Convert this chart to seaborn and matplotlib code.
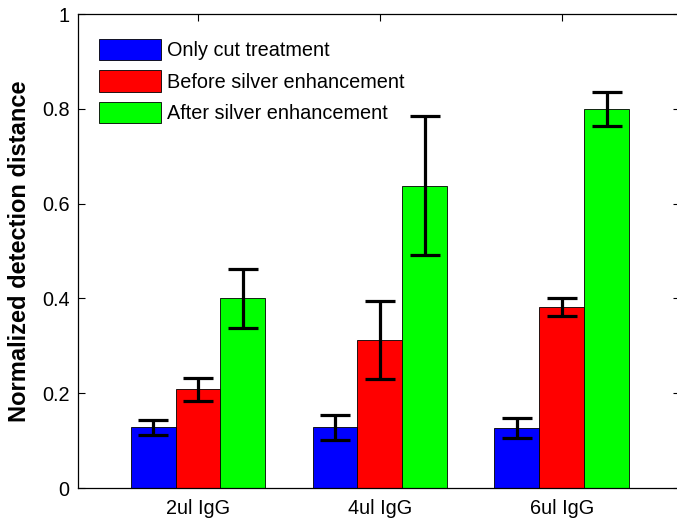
import matplotlib
matplotlib.use("Agg")
import matplotlib.pyplot as plt
from matplotlib.patches import Patch
import numpy as np
import pandas as pd
import seaborn as sns

# Data
groups = ["2ul IgG", "4ul IgG", "6ul IgG"]
conditions = ["Only cut treatment", "Before silver enhancement", "After silver enhancement"]
only_cut = [0.128, 0.128, 0.126]
before_silver = [0.208, 0.313, 0.382]
after_silver = [0.400, 0.638, 0.800]
only_cut_err = [0.016, 0.027, 0.021]
before_silver_err = [0.024, 0.082, 0.019]
after_silver_err = [0.062, 0.146, 0.036]
colors = ["#0000ff", "#ff0000", "#00ff00"]
y_ticks = [0, 0.2, 0.4, 0.6, 0.8, 1.0]
y_tick_labels = ["0", "0.2", "0.4", "0.6", "0.8", "1"]

values = [only_cut, before_silver, after_silver]
errors = [only_cut_err, before_silver_err, after_silver_err]

df = pd.DataFrame({
    "group": [g for _ in conditions for g in groups],
    "condition": [c for c in conditions for _ in groups],
    "value": [v for vals in values for v in vals],
})

sns.set_style("white")
plt.rcParams["font.family"] = ["Liberation Sans", "DejaVu Sans"]
plt.rcParams.update({"text.color": "black", "axes.labelcolor": "black",
                     "xtick.color": "black", "ytick.color": "black"})

fig = plt.figure(figsize=(6.77, 5.2), dpi=100)
ax = fig.add_axes([78 / 677, 1 - 488 / 520, 602 / 677, 474 / 520])

sns.barplot(data=df, x="group", y="value", hue="condition",
            order=groups, hue_order=conditions, palette=colors,
            width=0.74, errorbar=None, edgecolor="black", linewidth=0.6,
            saturation=1, ax=ax, legend=False)

# Error bars centred on each bar
for k, cond in enumerate(conditions):
    bars = ax.containers[k]
    xs = [b.get_x() + b.get_width() / 2 for b in bars]
    ax.errorbar(xs, values[k], yerr=errors[k], fmt="none", ecolor="black",
                elinewidth=2.3, capsize=11, capthick=2.3, zorder=3)

ax.set_xlim(-0.66, 2.65)
ax.set_ylim(0, 1)
ax.set_yticks(y_ticks)
ax.set_yticklabels(y_tick_labels)
ax.set_xlabel("")
ax.set_ylabel("Normalized detection distance", fontsize=17, fontweight="bold", labelpad=8)
ax.tick_params(axis="both", which="both", direction="in", labelsize=14.3,
               length=5, width=0.8, color="black", labelcolor="black",
               top=True, right=True, bottom=True, left=True)
ax.tick_params(axis="x", pad=8)
ax.tick_params(axis="y", pad=6)
ax.set_axisbelow(True)
for side in ["left", "bottom", "top"]:
    ax.spines[side].set_visible(True)
    ax.spines[side].set_color("black")
    ax.spines[side].set_linewidth(0.9)
ax.spines["right"].set_visible(False)

handles = [Patch(facecolor=c, edgecolor="black", linewidth=0.6) for c in colors]
ax.legend(handles, conditions, loc="upper left", bbox_to_anchor=(0.035, 0.948),
          frameon=False, fontsize=14.3, handlelength=3.1, handleheight=1.3,
          handletextpad=0.3, labelspacing=0.5, borderpad=0, borderaxespad=0)

fig.savefig("out.png", dpi=100)
